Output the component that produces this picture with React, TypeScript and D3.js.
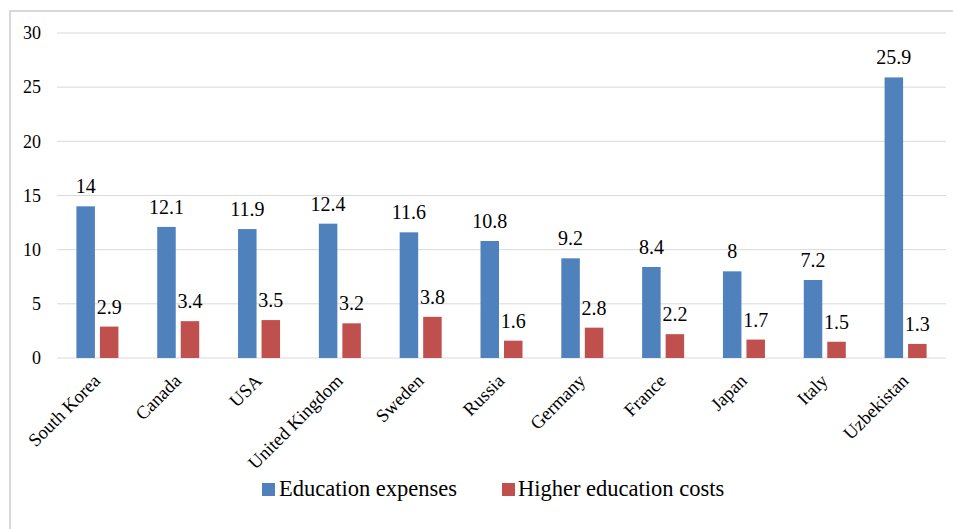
import React from "react";
import * as d3 from "d3";

const categories = ["South Korea", "Canada", "USA", "United Kingdom", "Sweden", "Russia", "Germany", "France", "Japan", "Italy", "Uzbekistan"];
const educationExpenses = [14, 12.1, 11.9, 12.4, 11.6, 10.8, 9.2, 8.4, 8, 7.2, 25.9];
const higherEducationCosts = [2.9, 3.4, 3.5, 3.2, 3.8, 1.6, 2.8, 2.2, 1.7, 1.5, 1.3];
const yTicks = [0, 5, 10, 15, 20, 25, 30];
const seriesNames = ["Education expenses", "Higher education costs"];
const colors = ["#4f81bd", "#c0504d"];

const W = 953, H = 529;
const left = 57, right = 946, top = 33, bottom = 358;
const font = "Liberation Serif, Tinos, Times New Roman, Noto Serif, DejaVu Serif, serif";

export default function App() {
  const x = d3.scaleBand<string>().domain(categories).range([left, right]).paddingInner(0).paddingOuter(0);
  const y = d3.scaleLinear().domain([0, 30]).range([bottom, top]);
  const barW = 18.5, gap = 5;
  const series = [educationExpenses, higherEducationCosts];
  return (
    <div style={{ position: "fixed", left: 0, top: 0 }}>
      <svg width={W} height={H} style={{ display: "block", background: "#fff", fontFamily: font }}>
        <rect x={10} y={11} width={W + 10} height={H + 10} fill="none" stroke="#d9d9d9" strokeWidth={2} />
        {yTicks.map((t) => (
          <g key={t}>
            <line x1={left} x2={right} y1={y(t)} y2={y(t)} stroke="#d9d9d9" strokeWidth={1} />
            <text x={41} y={y(t)} dy="0.35em" textAnchor="end" style={{ fontFamily: font }} fontSize={18} fill="#000">{t}</text>
          </g>
        ))}
        {categories.map((c, i) => {
          const cx = x(c)! + x.bandwidth() / 2;
          return (
            <g key={c}>
              {series.map((s, k) => {
                const bx = k === 0 ? cx - gap / 2 - barW : cx + gap / 2;
                const v = s[i];
                return (
                  <g key={k}>
                    <rect x={bx} y={y(v)} width={barW} height={y(0) - y(v)} fill={colors[k]} />
                    <text x={bx + barW / 2} y={y(v) - 13} textAnchor="middle" style={{ fontFamily: font }} fontSize={20} fill="#000">{v}</text>
                  </g>
                );
              })}
              <text transform={`translate(${cx + 4},${382}) rotate(-45)`} textAnchor="end" style={{ fontFamily: font }} fontSize={18.5} fill="#000">{c}</text>
            </g>
          );
        })}
        <rect x={262} y={483} width={13} height={13} fill={colors[0]} />
        <text x={279} y={496} style={{ fontFamily: font }} fontSize={22.5} fill="#000">{seriesNames[0]}</text>
        <rect x={502} y={483} width={13} height={13} fill={colors[1]} />
        <text x={518} y={496} style={{ fontFamily: font }} fontSize={22.5} fill="#000">{seriesNames[1]}</text>
      </svg>
    </div>
  );
}
